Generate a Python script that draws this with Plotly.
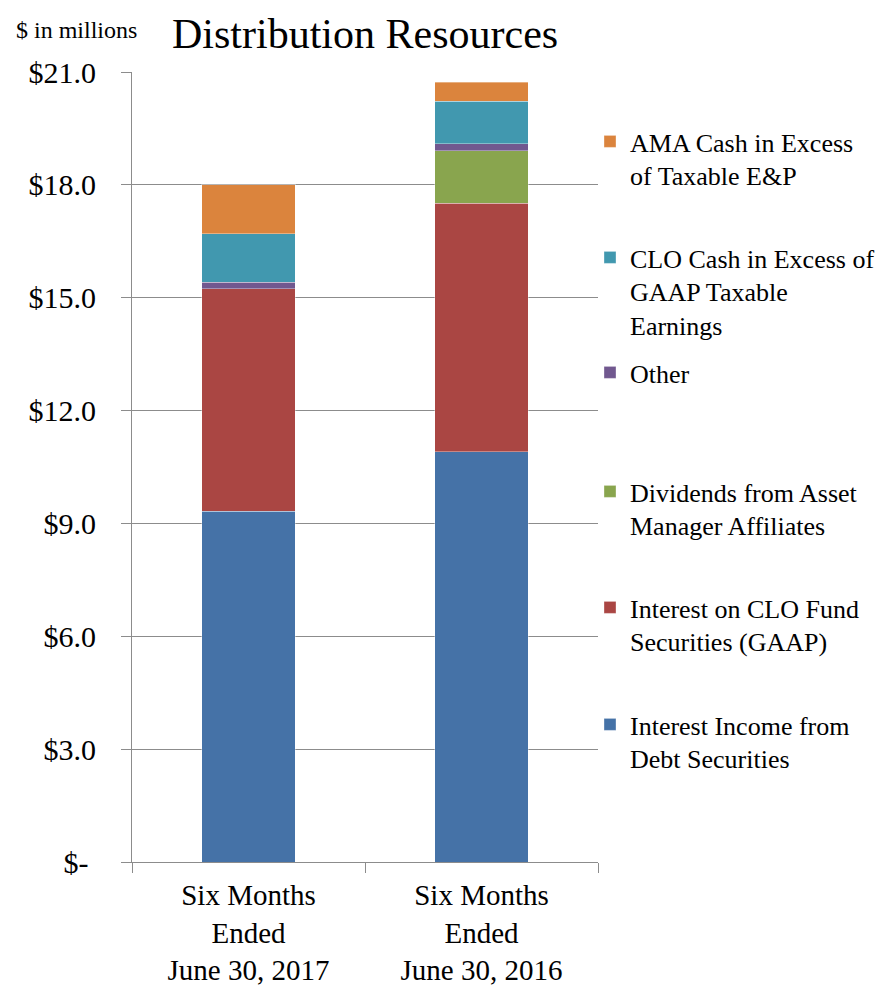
import plotly.graph_objects as go

categories = ["Six Months<br>Ended<br>June 30, 2017", "Six Months<br>Ended<br>June 30, 2016"]

interest_income = [9.32, 10.91]
interest_clo = [5.92, 6.60]
dividends = [0.0, 1.40]
other = [0.17, 0.18]
clo_cash = [1.29, 1.13]
ama_cash = [1.30, 0.51]

series_names = [
    "Interest Income from<br>Debt Securities",
    "Interest on CLO Fund<br>Securities (GAAP)",
    "Dividends from Asset<br>Manager Affiliates",
    "Other",
    "CLO Cash in Excess of<br>GAAP Taxable<br>Earnings",
    "AMA Cash in Excess<br>of Taxable E&amp;P",
]
series_values = [interest_income, interest_clo, dividends, other, clo_cash, ama_cash]
colors = ["#4572A7", "#AA4643", "#89A54E", "#71588F", "#4198AF", "#DB843D"]

y_tickvals = [0, 3, 6, 9, 12, 15, 18, 21]
y_ticktext = ["$-\u00a0", "$3.0", "$6.0", "$9.0", "$12.0", "$15.0", "$18.0", "$21.0"]

FONT = "Liberation Serif"
OFF = 8  # page body margin
W, H = 887 - OFF, 987 - OFF
# plot area in screen pixels
SL, SR, ST, SB = 132, 598, 72, 862
L, R, T, B = SL - OFF, SR - OFF, ST - OFF, SB - OFF

def px_x(p):
    return (p - OFF - L) / (R - L)

def px_y(p):
    return (B - (p - OFF)) / (B - T)

fig = go.Figure()
legend_ids = ["legend6", "legend5", "legend4", "legend3", "legend2", "legend"]
for name, vals, col, lid in zip(series_names, series_values, colors, legend_ids):
    fig.add_trace(go.Bar(
        x=categories, y=vals, name=name,
        marker=dict(color=col, line=dict(color="rgba(255,255,255,0.35)", width=1)),
        legend=lid,
    ))

# legend first-line baselines (screen px), top to bottom
legend_baselines = {"legend": 152, "legend2": 268, "legend3": 383, "legend4": 502, "legend5": 618, "legend6": 735}
layout_legends = {}
for lid, base in legend_baselines.items():
    layout_legends[lid] = dict(
        x=px_x(590), y=px_y(base - 34), xanchor="left", yanchor="top",
        font=dict(family=FONT, size=26, color="#000000"),
        bgcolor="rgba(0,0,0,0)", borderwidth=0, valign="top",
    )

fig.update_layout(
    width=W, height=H,
    margin=dict(l=L, r=W - R, t=T, b=H - B, pad=0, autoexpand=False),
    barmode="stack", bargap=0.6,
    plot_bgcolor="white", paper_bgcolor="white",
    font=dict(family=FONT, color="#000000"),
    showlegend=True,
    **layout_legends,
)

fig.update_yaxes(
    range=[0, 21], tickvals=y_tickvals, ticktext=y_ticktext,
    showgrid=True, gridcolor="#8c8c8c", gridwidth=1,
    showline=True, linecolor="#8c8c8c", linewidth=1,
    ticks="outside", ticklen=10, tickcolor="#8c8c8c",
    zeroline=False, ticklabelstandoff=19, automargin=False,
    tickfont=dict(family=FONT, size=30, color="#000000"),
)
fig.update_xaxes(
    showline=True, linecolor="#8c8c8c", linewidth=1,
    ticks="outside", ticklen=10, tickcolor="#8c8c8c", tickson="boundaries",
    automargin=False, ticklabelstandoff=7,
    tickfont=dict(family=FONT, size=29, color="#000000"),
)

fig.add_annotation(
    text="Distribution Resources", xref="paper", yref="paper",
    x=0.5, y=px_y(34), xanchor="center", yanchor="middle", showarrow=False,
    font=dict(family=FONT, size=42, color="#000000"),
)
fig.add_annotation(
    text="$ in millions", xref="paper", yref="paper",
    x=px_x(14), y=px_y(30), xanchor="left", yanchor="middle", showarrow=False,
    font=dict(family=FONT, size=24, color="#000000"),
)

fig.write_html("out.html")
